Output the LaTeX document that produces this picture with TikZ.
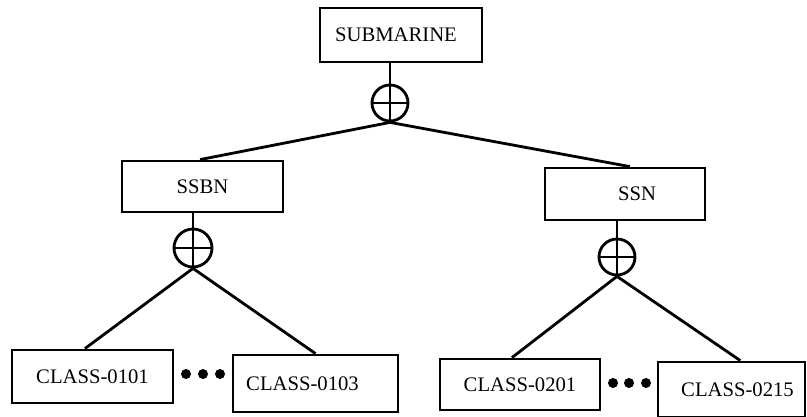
\documentclass[tikz,border=0pt]{standalone}
\usepackage{fontspec}
\setmainfont{Liberation Serif}
\usetikzlibrary{positioning}

\begin{document}
\begin{tikzpicture}[line width=2pt,
    box/.style={draw, rectangle, inner sep=0pt, font=\fontsize{14.7}{17}\selectfont},
    orsym/.style={draw, circle, inner sep=0pt, minimum size=0.9cm},
    dot/.style={fill, circle, inner sep=0pt, minimum size=0.25cm}]
    \useasboundingbox (0,0) rectangle (20.175,10.425);

    % Racine
    \node[box, minimum width=4.05cm, minimum height=1.35cm] (sub) at (10.025,9.55) {\hspace*{-0.25cm}SUBMARINE};
    \node[orsym] (c0) at (9.75,7.85) {};

    % Deuxieme niveau
    \node[box, minimum width=4.025cm, minimum height=1.275cm] (ssbn) at (5.0625,5.7625) {SSBN};
    \node[box, minimum width=4.0cm, minimum height=1.3cm] (ssn) at (15.625,5.575) {\hspace*{0.6cm}SSN};
    \node[orsym, minimum size=0.95cm] (c1) at (4.825,4.225) {};
    \node[orsym] (c2) at (15.425,4.0) {};

    % Classes
    \node[box, minimum width=4.025cm, minimum height=1.325cm] (c0101) at (2.3125,1.0125) {CLASS-0101};
    \node[box, minimum width=4.125cm, minimum height=1.425cm] (c0103) at (7.8875,0.8375) {\hspace*{-0.65cm}CLASS-0103};
    \node[box, minimum width=4.0cm, minimum height=1.275cm] (c0201) at (13.0,0.8125) {CLASS-0201};
    \node[box, minimum width=3.675cm, minimum height=1.375cm] (c0215) at (18.2875,0.6875) {\hspace*{0.3cm}CLASS-0215};

    % Points de suspension
    \node[dot] (d1) at (4.65,1.075) {};
    \node[dot] (d2) at (5.075,1.075) {};
    \node[dot] (d3) at (5.5,1.075) {};
    \node[dot] (d4) at (15.325,0.85) {};
    \node[dot] (d5) at (15.725,0.85) {};
    \node[dot] (d6) at (16.15,0.85) {};

    % Symboles
    \foreach \c in {c0, c1, c2}
        \draw (\c.north) -- (\c.south) (\c.west) -- (\c.east);

    % Aretes
    \draw (sub.south -| c0) -- (c0.north);
    \draw (ssbn.south -| c1) -- (c1.north);
    \draw (ssn.south -| c2) -- (c2.north);
    \draw (c0.south) -- ([xshift=-0.06cm]ssbn.north);
    \draw (c0.south) -- ([xshift=0.12cm]ssn.north);
    \draw (c1.south) -- ([xshift=-0.19cm]c0101.north);
    \draw (c1.south) -- (c0103.north);
    \draw (c2.south) -- ([xshift=-0.2cm]c0201.north);
    \draw (c2.south) -- ([xshift=0.22cm]c0215.north);
\end{tikzpicture}
\end{document}
